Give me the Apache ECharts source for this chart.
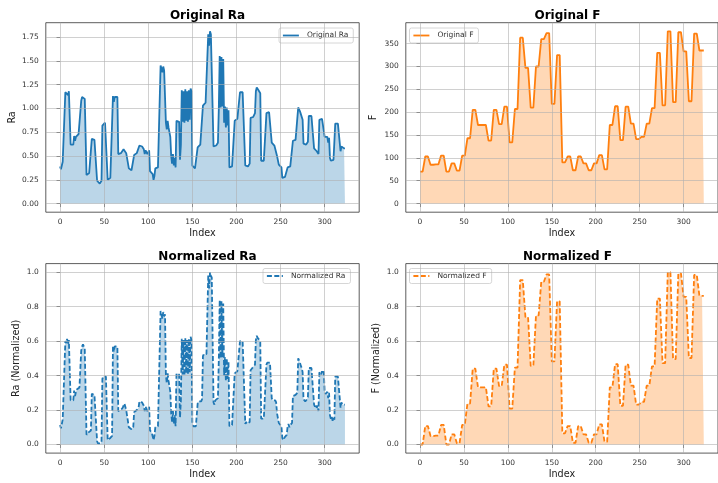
<!DOCTYPE html>
<html>
<head>
<meta charset="utf-8">
<title>Ra and F: original and normalized</title>
<script src="https://cdn.jsdelivr.net/npm/echarts@6/dist/echarts.min.js"></script>
<style>
  html, body { margin: 0; padding: 0; background: #ffffff; }
  #chart { width: 718px; height: 483px; }
</style>
</head>
<body>
<div id="chart"></div>
<script>
// Surface roughness Ra per sample (324 rows, 6 rows per parameter set)
const raValues = [
  0.39,0.36,0.40,0.44,0.45,0.43,  1.17,1.15,1.19,1.14,1.18,1.19,
  0.62,0.61,0.63,0.62,0.71,0.66,  0.70,0.72,0.71,0.73,0.74,0.74,
  1.08,1.12,1.14,1.13,1.10,1.10,  0.30,0.31,0.32,0.32,0.33,0.34,
  0.68,0.68,0.68,0.67,0.67,0.66,  0.24,0.22,0.23,0.21,0.22,0.24,
  0.82,0.84,0.83,0.85,0.84,0.85,  0.25,0.24,0.26,0.27,0.27,0.29,
  1.13,1.07,1.12,1.11,1.12,1.12,  0.52,0.53,0.52,0.53,0.54,0.55,
  0.57,0.59,0.56,0.53,0.54,0.52,  0.37,0.36,0.36,0.35,0.36,0.37,
  0.51,0.51,0.52,0.53,0.52,0.55,  0.61,0.61,0.60,0.60,0.59,0.57,
  0.52,0.56,0.55,0.52,0.53,0.56,  0.34,0.33,0.32,0.31,0.25,0.29,
  0.37,0.38,0.38,0.38,0.37,0.38,  1.45,1.42,1.38,1.44,1.40,1.42,
  0.85,0.78,0.87,0.80,0.75,0.70,  0.50,0.42,0.52,0.40,0.48,0.38,
  0.87,0.88,0.87,0.86,0.46,0.62,  1.19,0.86,1.18,0.85,1.20,0.87,
  1.18,0.86,1.19,0.88,1.21,1.18,  0.40,0.38,0.39,0.37,0.38,0.39,
  0.59,0.61,0.60,0.62,0.61,0.63,  1.03,1.05,1.04,1.06,1.05,1.06,
  1.78,1.66,1.81,1.78,1.76,1.77,  0.60,0.58,0.62,0.61,0.63,0.64,
  1.00,1.55,1.01,1.54,1.02,1.52,  0.85,1.02,0.80,1.01,0.82,0.98,
  0.38,0.39,0.38,0.39,0.40,0.39,  0.87,0.88,0.88,0.89,0.88,0.90,
  1.17,1.16,1.18,1.17,1.16,1.17,  0.40,0.42,0.40,0.39,0.41,0.42,
  0.90,0.91,0.92,0.91,0.93,0.95,  1.18,1.22,1.20,1.19,1.18,1.16,
  0.45,0.46,0.45,0.45,0.44,0.45,  0.95,0.97,0.97,0.96,0.97,0.97,
  0.64,0.62,0.62,0.61,0.62,0.60,  0.50,0.49,0.41,0.40,0.40,0.38,
  0.27,0.25,0.26,0.28,0.27,0.30,  0.38,0.40,0.37,0.39,0.38,0.41,
  0.66,0.66,0.67,0.67,0.68,0.69,  1.01,0.99,0.97,0.94,0.92,0.88,
  0.63,0.62,0.61,0.62,0.63,0.65,  0.92,0.93,0.93,0.92,0.93,0.93,
  0.58,0.56,0.58,0.55,0.57,0.52,  0.88,0.89,0.86,0.89,0.87,0.89,
  0.70,0.68,0.69,0.70,0.64,0.69,  0.48,0.45,0.47,0.43,0.46,0.44,
  0.84,0.85,0.83,0.84,0.85,0.84,  0.55,0.60,0.58,0.59,0.58,0.58
];

// Cutting force F per sample
const fValues = [
  70,70,70,70,70,70,  103,103,103,103,103,103,  85,85,85,85,85,85,
  86,86,86,86,86,86,  105,105,105,105,105,105,  70,70,70,70,70,70,
  88,88,88,88,88,88,  72,72,72,72,72,72,  105,105,105,105,105,105,
  143,143,143,143,143,143,  205,205,205,205,205,205,  172,172,172,172,172,172,
  172,172,172,172,172,172,  138,138,138,138,138,138,  205,205,205,205,205,205,
  174,174,174,174,174,174,  212,212,212,212,212,212,  134,134,134,134,134,134,
  207,207,207,207,207,207,  363,363,363,363,363,363,  297,297,297,297,297,297,
  210,210,210,210,210,210,  300,300,300,300,300,300,  360,360,360,360,360,360,
  373,373,373,373,373,373,  218,218,218,218,218,218,  325,325,325,325,325,325,
  90,90,90,90,90,90,  103,103,103,103,103,103,  73,73,73,73,73,73,
  103,103,103,103,103,103,  88,88,88,88,88,88,  73,73,73,73,73,73,
  88,88,88,88,88,88,  106,106,106,106,106,106,  75,75,75,75,75,75,
  172,172,172,172,172,172,  213,213,213,213,213,213,  139,139,139,139,139,139,
  212,212,212,212,212,212,  175,175,175,175,175,175,  141,141,141,141,141,141,
  146,146,146,146,146,146,  175,175,175,175,175,175,  209,209,209,209,209,209,
  330,330,330,330,330,330,  215,215,215,215,215,215,  377,377,377,377,377,377,
  222,222,222,222,222,222,  375,375,375,375,375,375,  333,333,333,333,333,333,
  224,224,224,224,224,224,  372,372,372,372,372,372,  335,335,335,335,335,335
];

// Min-max scaled Ra
const raNormValues = [
  0.113,0.094,0.119,0.144,0.150,0.138,  0.600,0.588,0.613,0.581,0.606,0.613,
  0.256,0.250,0.263,0.256,0.313,0.281,  0.306,0.319,0.313,0.325,0.331,0.331,
  0.544,0.569,0.581,0.575,0.556,0.556,  0.056,0.063,0.069,0.069,0.075,0.081,
  0.294,0.294,0.294,0.288,0.288,0.281,  0.019,0.006,0.013,0.000,0.006,0.019,
  0.381,0.394,0.388,0.400,0.394,0.400,  0.025,0.019,0.031,0.038,0.038,0.050,
  0.575,0.538,0.569,0.563,0.569,0.569,  0.194,0.200,0.194,0.200,0.206,0.213,
  0.225,0.238,0.219,0.200,0.206,0.194,  0.100,0.094,0.094,0.088,0.094,0.100,
  0.188,0.188,0.194,0.200,0.194,0.213,  0.250,0.250,0.244,0.244,0.238,0.225,
  0.194,0.219,0.213,0.194,0.200,0.219,  0.081,0.075,0.069,0.063,0.025,0.050,
  0.100,0.106,0.106,0.106,0.100,0.106,  0.775,0.756,0.731,0.769,0.744,0.756,
  0.400,0.356,0.413,0.369,0.338,0.306,  0.181,0.131,0.194,0.119,0.169,0.106,
  0.413,0.419,0.413,0.406,0.156,0.256,  0.613,0.406,0.606,0.400,0.619,0.413,
  0.606,0.406,0.613,0.419,0.625,0.606,  0.119,0.106,0.113,0.100,0.106,0.113,
  0.238,0.250,0.244,0.256,0.250,0.263,  0.513,0.525,0.519,0.531,0.525,0.531,
  0.981,0.906,1.000,0.981,0.969,0.975,  0.244,0.231,0.256,0.250,0.263,0.269,
  0.494,0.838,0.500,0.831,0.506,0.819,  0.400,0.506,0.369,0.500,0.381,0.481,
  0.106,0.113,0.106,0.113,0.119,0.113,  0.413,0.419,0.419,0.425,0.419,0.431,
  0.600,0.594,0.606,0.600,0.594,0.600,  0.119,0.131,0.119,0.113,0.125,0.131,
  0.431,0.438,0.444,0.438,0.450,0.463,  0.606,0.631,0.619,0.613,0.606,0.594,
  0.150,0.156,0.150,0.150,0.144,0.150,  0.463,0.475,0.475,0.469,0.475,0.475,
  0.269,0.256,0.256,0.250,0.256,0.244,  0.181,0.175,0.125,0.119,0.119,0.106,
  0.038,0.025,0.031,0.044,0.038,0.056,  0.106,0.119,0.100,0.113,0.106,0.125,
  0.281,0.281,0.288,0.288,0.294,0.300,  0.500,0.488,0.475,0.456,0.444,0.419,
  0.263,0.256,0.250,0.256,0.263,0.275,  0.444,0.450,0.450,0.444,0.450,0.450,
  0.231,0.219,0.231,0.213,0.225,0.194,  0.419,0.425,0.406,0.425,0.413,0.425,
  0.306,0.294,0.300,0.306,0.269,0.300,  0.169,0.150,0.163,0.138,0.156,0.144,
  0.394,0.400,0.388,0.394,0.400,0.394,  0.213,0.244,0.231,0.238,0.231,0.231
];

// Min-max scaled F
const fNormValues = [
  0.000,0.000,0.000,0.000,0.000,0.000,  0.107,0.107,0.107,0.107,0.107,0.107,
  0.049,0.049,0.049,0.049,0.049,0.049,  0.052,0.052,0.052,0.052,0.052,0.052,
  0.114,0.114,0.114,0.114,0.114,0.114,  0.000,0.000,0.000,0.000,0.000,0.000,
  0.059,0.059,0.059,0.059,0.059,0.059,  0.007,0.007,0.007,0.007,0.007,0.007,
  0.114,0.114,0.114,0.114,0.114,0.114,  0.238,0.238,0.238,0.238,0.238,0.238,
  0.440,0.440,0.440,0.440,0.440,0.440,  0.332,0.332,0.332,0.332,0.332,0.332,
  0.332,0.332,0.332,0.332,0.332,0.332,  0.221,0.221,0.221,0.221,0.221,0.221,
  0.440,0.440,0.440,0.440,0.440,0.440,  0.339,0.339,0.339,0.339,0.339,0.339,
  0.463,0.463,0.463,0.463,0.463,0.463,  0.208,0.208,0.208,0.208,0.208,0.208,
  0.446,0.446,0.446,0.446,0.446,0.446,  0.954,0.954,0.954,0.954,0.954,0.954,
  0.739,0.739,0.739,0.739,0.739,0.739,  0.456,0.456,0.456,0.456,0.456,0.456,
  0.749,0.749,0.749,0.749,0.749,0.749,  0.945,0.945,0.945,0.945,0.945,0.945,
  0.987,0.987,0.987,0.987,0.987,0.987,  0.482,0.482,0.482,0.482,0.482,0.482,
  0.831,0.831,0.831,0.831,0.831,0.831,  0.065,0.065,0.065,0.065,0.065,0.065,
  0.107,0.107,0.107,0.107,0.107,0.107,  0.010,0.010,0.010,0.010,0.010,0.010,
  0.107,0.107,0.107,0.107,0.107,0.107,  0.059,0.059,0.059,0.059,0.059,0.059,
  0.010,0.010,0.010,0.010,0.010,0.010,  0.059,0.059,0.059,0.059,0.059,0.059,
  0.117,0.117,0.117,0.117,0.117,0.117,  0.016,0.016,0.016,0.016,0.016,0.016,
  0.332,0.332,0.332,0.332,0.332,0.332,  0.466,0.466,0.466,0.466,0.466,0.466,
  0.225,0.225,0.225,0.225,0.225,0.225,  0.463,0.463,0.463,0.463,0.463,0.463,
  0.342,0.342,0.342,0.342,0.342,0.342,  0.231,0.231,0.231,0.231,0.231,0.231,
  0.248,0.248,0.248,0.248,0.248,0.248,  0.342,0.342,0.342,0.342,0.342,0.342,
  0.453,0.453,0.453,0.453,0.453,0.453,  0.847,0.847,0.847,0.847,0.847,0.847,
  0.472,0.472,0.472,0.472,0.472,0.472,  1.000,1.000,1.000,1.000,1.000,1.000,
  0.495,0.495,0.495,0.495,0.495,0.495,  0.993,0.993,0.993,0.993,0.993,0.993,
  0.857,0.857,0.857,0.857,0.857,0.857,  0.502,0.502,0.502,0.502,0.502,0.502,
  0.984,0.984,0.984,0.984,0.984,0.984,  0.863,0.863,0.863,0.863,0.863,0.863
];

// Row index shared by every panel
const sampleIndex = raValues.map((_, i) => i);

// Tick labels
const indexTicks = [0, 50, 100, 150, 200, 250, 300];
const raTicks = [0, 0.25, 0.5, 0.75, 1.0, 1.25, 1.5, 1.75];
const fTicks = [0, 50, 100, 150, 200, 250, 300, 350];
const normTicks = [0, 0.2, 0.4, 0.6, 0.8, 1.0];

const BLUE = '#1f77b4';
const ORANGE = '#ff7f0e';
const FONT = 'DejaVu Sans';

// Plot-area rectangles (px)
const PANEL_W = 313.4, PANEL_H = 189.5;
const panels = [
  { left: 45.8,  top: 22.7 },
  { left: 405.8, top: 22.7 },
  { left: 45.8,  top: 263.6 },
  { left: 405.8, top: 263.6 }
];

const panelDefs = [
  { title: 'Original Ra', yName: 'Ra', values: raValues, color: BLUE, dashed: false,
    yMin: -0.0905, yMax: 1.9005, ticks: raTicks, fmt: v => v.toFixed(2), nameGap: 28,
    legend: { left: 279, top: 28 } },
  { title: 'Original F', yName: 'F', values: fValues, color: ORANGE, dashed: false,
    yMin: -18.85, yMax: 395.85, ticks: fTicks, fmt: v => String(v), nameGap: 27,
    legend: { left: 409.5, top: 28 } },
  { title: 'Normalized Ra', yName: 'Ra (Normalized)', values: raNormValues, color: BLUE, dashed: true,
    yMin: -0.05, yMax: 1.05, ticks: normTicks, fmt: v => v.toFixed(1), nameGap: 24,
    legend: { left: 263, top: 268.5 } },
  { title: 'Normalized F', yName: 'F (Normalized)', values: fNormValues, color: ORANGE, dashed: true,
    yMin: -0.05, yMax: 1.05, ticks: normTicks, fmt: v => v.toFixed(1), nameGap: 24,
    legend: { left: 409.5, top: 268.5 } }
];

const areaColor = { [BLUE]: 'rgba(31,119,180,0.3)', [ORANGE]: 'rgba(255,127,14,0.3)' };

const grid = [], xAxis = [], yAxis = [], series = [], title = [], legend = [];

panelDefs.forEach((p, k) => {
  const r = panels[k];
  const dash = p.dashed ? [5, 2.4] : 'solid';
  grid.push({
    left: r.left, top: r.top, width: PANEL_W, height: PANEL_H,
    show: true, borderColor: '#333333', borderWidth: 0.8, backgroundColor: '#ffffff'
  });
  title.push({
    text: p.title, left: r.left + PANEL_W / 2, top: r.top - 18, textAlign: 'center',
    textStyle: { fontFamily: FONT, fontSize: 12, fontWeight: 'bold', color: '#000' }
  });
  xAxis.push({
    type: 'value', gridIndex: k, min: -16.15, max: 339.15,
    name: 'Index', nameLocation: 'middle', nameGap: 16.5,
    nameTextStyle: { fontFamily: FONT, fontSize: 9.6, color: '#222' },
    axisLine: { show: false },
    axisTick: { show: true, length: 3.5, customValues: indexTicks, lineStyle: { color: '#333', width: 0.8 } },
    axisLabel: { customValues: indexTicks, margin: 5.5, fontFamily: FONT, fontSize: 7.5, color: '#333' },
    splitLine: { show: false }
  });
  yAxis.push({
    type: 'value', gridIndex: k, min: p.yMin, max: p.yMax,
    name: p.yName, nameLocation: 'middle', nameGap: p.nameGap, nameRotate: 90,
    nameTextStyle: { fontFamily: FONT, fontSize: 9.6, color: '#222' },
    axisLine: { show: false },
    axisTick: { show: true, length: 3.5, customValues: p.ticks, lineStyle: { color: '#333', width: 0.8 } },
    axisLabel: { customValues: p.ticks, margin: 7, fontFamily: FONT, fontSize: 7.5, color: '#333',
                 formatter: p.fmt },
    splitLine: { show: false }
  });

  const pts = sampleIndex.map((x, i) => [x, p.values[i]]);

  // shaded area under the curve
  series.push({
    type: 'line', name: p.title + ' area', xAxisIndex: k, yAxisIndex: k, data: pts,
    symbol: 'none', silent: true, z: 1, animation: false,
    lineStyle: { width: 0 },
    areaStyle: { color: areaColor[p.color], opacity: 1, origin: 'auto' }
  });
  // grid lines at the tick positions, above the shading
  series.push({
    type: 'line', name: p.title + ' grid', xAxisIndex: k, yAxisIndex: k, data: [],
    silent: true, z: 2, animation: false,
    markLine: {
      silent: true, symbol: ['none', 'none'], animation: false,
      label: { show: false },
      lineStyle: { color: '#b0b0b0', width: 0.8, type: 'solid', opacity: 0.75 },
      emphasis: { disabled: true },
      data: p.ticks.map(v => ({ yAxis: v })).concat(indexTicks.map(v => ({ xAxis: v })))
    }
  });
  // the series line itself
  series.push({
    type: 'line', name: p.title, xAxisIndex: k, yAxisIndex: k, data: pts,
    symbol: 'none', showSymbol: false, z: 3, animation: false,
    itemStyle: { color: p.color },
    lineStyle: { color: p.color, width: 1.8, type: dash }
  });

  legend.push({
    data: [p.title], left: p.legend.left, top: p.legend.top,
    orient: 'vertical', itemWidth: 16, itemHeight: 8, padding: [3.5, 5, 3.5, 3],
    backgroundColor: 'rgba(255,255,255,0.8)', borderColor: '#cccccc', borderWidth: 0.8,
    borderRadius: 2, selectedMode: false,
    itemStyle: { opacity: 0, borderWidth: 0 },
    lineStyle: { color: p.color, width: 1.8, type: dash, opacity: 1 },
    textStyle: { fontFamily: FONT, fontSize: 7.5, color: '#333', padding: [0, 0, 0, 3] }
  });
});

const chart = echarts.init(document.getElementById('chart'), null, { renderer: 'canvas' });
chart.setOption({
  backgroundColor: '#ffffff',
  animation: false,
  title, legend, grid, xAxis, yAxis, series
});
</script>
</body>
</html>
